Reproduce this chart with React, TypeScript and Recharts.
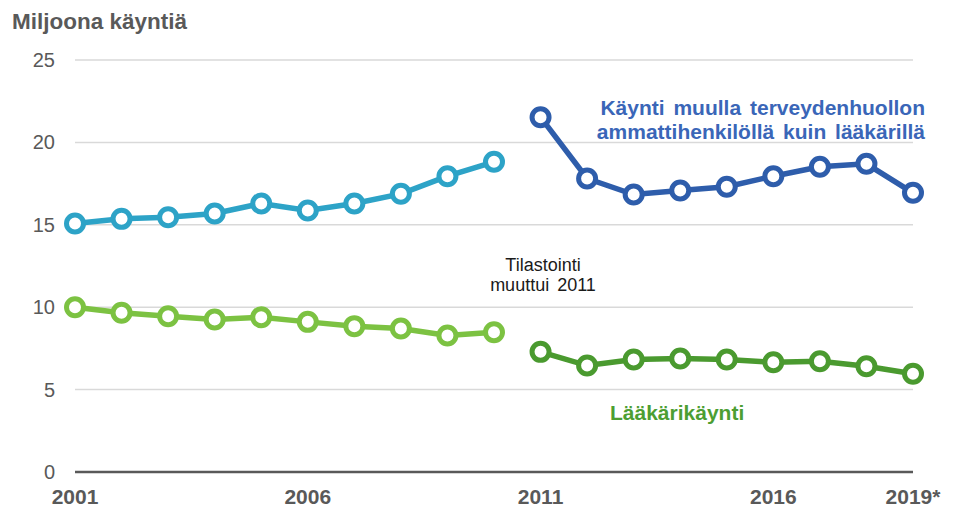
import React from 'react';
import { LineChart, Line, XAxis, YAxis, CartesianGrid, Customized } from 'recharts';

const years = [2001, 2002, 2003, 2004, 2005, 2006, 2007, 2008, 2009, 2010, 2011, 2012, 2013, 2014, 2015, 2016, 2017, 2018, 2019];
const otherOld = [15.08, 15.36, 15.46, 15.69, 16.29, 15.87, 16.29, 16.88, 17.95, 18.82];
const otherNew = [21.53, 17.81, 16.84, 17.08, 17.31, 17.95, 18.52, 18.7, 16.94];
const doctorOld = [10.0, 9.66, 9.45, 9.25, 9.39, 9.11, 8.85, 8.71, 8.28, 8.48];
const doctorNew = [7.29, 6.46, 6.83, 6.89, 6.83, 6.66, 6.72, 6.42, 5.96];
const xTicks = [2001, 2006, 2011, 2016, 2019];
const xTickLabels: Record<number, string> = { 2001: '2001', 2006: '2006', 2011: '2011', 2016: '2016', 2019: '2019*' };
const yTicks = [0, 5, 10, 15, 20, 25];

const data = years.map((year, i) => ({
  year,
  otherOld: i < 10 ? otherOld[i] : null,
  otherNew: i >= 10 ? otherNew[i - 10] : null,
  doctorOld: i < 10 ? doctorOld[i] : null,
  doctorNew: i >= 10 ? doctorNew[i - 10] : null,
}));

const FONT = "Arial, 'Liberation Sans', sans-serif";
const C_LB = '#2DA3C7';
const C_DB = '#2E5DAB';
const C_LG = '#7CC242';
const C_DG = '#4A9A2F';

const YTick = (props: any) => {
  const { y, payload } = props;
  return (
    <text x={47} y={y} dy="0.35em" textAnchor="end" fill="#595959" fontSize={20} fontFamily={FONT}>
      {payload.value}
    </text>
  );
};

const XTick = (props: any) => {
  const { x, payload } = props;
  return (
    <text x={x} y={489} dy="0.35em" textAnchor="middle" fill="#595959" fontSize={21} fontWeight="bold" fontFamily={FONT}>
      {xTickLabels[payload.value] ?? String(payload.value)}
    </text>
  );
};

const Annotations = () => (
  <g fontFamily={FONT}>
    <text x={4} y={21} fill="#595959" fontSize={22.5} fontWeight="bold">Miljoona käyntiä</text>
    <text x={917} y={107} textAnchor="end" fill="#3A66B8" fontSize={21} fontWeight="bold" style={{ wordSpacing: '3px' }}>Käynti muulla terveydenhuollon</text>
    <text x={917} y={131} textAnchor="end" fill="#3A66B8" fontSize={21} fontWeight="bold" style={{ wordSpacing: '3px' }}>ammattihenkilöllä kuin lääkärillä</text>
    <text x={602} y={412} fill="#4C9E32" fontSize={21} fontWeight="bold">Lääkärikäynti</text>
    <text x={535} y={263} textAnchor="middle" fill="#1a1a1a" fontSize={18}>Tilastointi</text>
    <text x={535} y={283} textAnchor="middle" fill="#1a1a1a" fontSize={18} style={{ wordSpacing: '3px' }}>muuttui 2011</text>
  </g>
);

const dotStyle = (c: string) => ({ r: 8.5, fill: '#fff', stroke: c, strokeWidth: 5 });

export default function App() {
  return (
    <LineChart width={949} height={500} data={data} margin={{ top: 52, right: 44, bottom: 6, left: 17 }}>
      <CartesianGrid vertical={false} stroke="#d9d9d9" strokeWidth={1.5} />
      <XAxis
        dataKey="year"
        type="number"
        domain={[2001, 2019]}
        ticks={xTicks}
        tick={<XTick />}
        tickLine={false}
        axisLine={{ stroke: '#595959', strokeWidth: 2.5 }}
        height={30}
        interval={0}
      />
      <YAxis domain={[0, 25]} ticks={yTicks} tick={<YTick />} tickLine={false} axisLine={false} width={50} />
      <Line dataKey="otherOld" stroke={C_LB} strokeWidth={5.5} dot={dotStyle(C_LB)} isAnimationActive={false} connectNulls={false} />
      <Line dataKey="otherNew" stroke={C_DB} strokeWidth={5.5} dot={dotStyle(C_DB)} isAnimationActive={false} connectNulls={false} />
      <Line dataKey="doctorOld" stroke={C_LG} strokeWidth={5.5} dot={dotStyle(C_LG)} isAnimationActive={false} connectNulls={false} />
      <Line dataKey="doctorNew" stroke={C_DG} strokeWidth={5.5} dot={dotStyle(C_DG)} isAnimationActive={false} connectNulls={false} />
      <Customized component={Annotations} />
    </LineChart>
  );
}
